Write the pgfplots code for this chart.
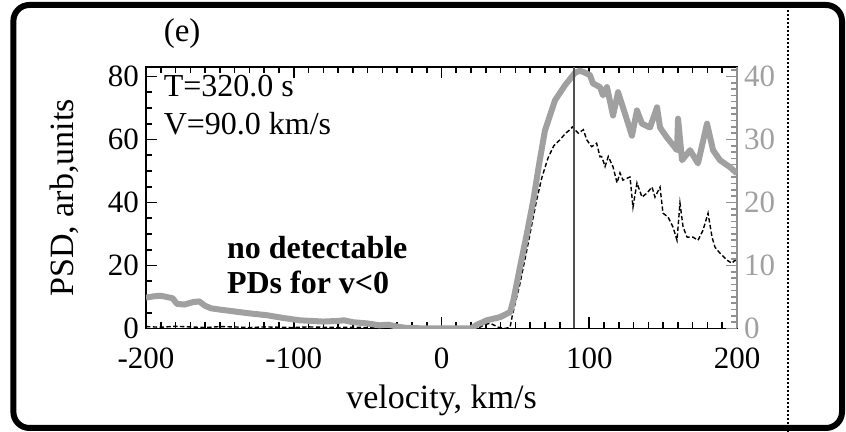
\documentclass[border=0pt]{standalone}
\usepackage{fontspec}
\setmainfont{Liberation Serif}
\usepackage{pgfplots}
\pgfplotsset{compat=1.18}
\definecolor{psdgray}{HTML}{A0A0A0}
\definecolor{rgray}{HTML}{909090}
\definecolor{vline}{HTML}{505050}
\begin{document}
\begin{tikzpicture}
\useasboundingbox (0,0) rectangle (423pt,216pt);
% main (left) axis
\begin{axis}[
  at={(73pt,51.75pt)}, anchor=south west, scale only axis,
  width=295.5pt, height=130.75pt,
  xmin=-200, xmax=200, ymin=0, ymax=83,
  /pgf/number format/assume math mode=true,
  tick label style={font=\fontsize{15.5}{17}\selectfont},
  xtick={-200,-100,0,100,200}, minor x tick num=9,
  ytick={0,20,40,60,80}, minor y tick num=3,
  xtick pos=both, ytick pos=left,
  major tick length=5.5pt, minor tick length=3.2pt,
  major tick style={black, line width=0.8pt},
  minor tick style={black, line width=0.8pt},
  axis line style={line width=0.6pt},
  xticklabel style={yshift=-6pt},
  xlabel={velocity, km/s},
  ylabel={PSD, arb,units},
  label style={font=\fontsize{17}{19}\selectfont},
  xlabel style={at={(axis description cs:0.5,-0.2734)}, anchor=center},
  ylabel style={at={(axis description cs:-0.138,0.5)}, anchor=center},
]
\pgfplotsinvokeforeach{-190,-180,...,190}{
  \draw[black, line width=0.8pt] (axis cs:#1,0) -- ++(0pt,3.2pt) (axis cs:#1,83) -- ++(0pt,-3.2pt);}
\pgfplotsinvokeforeach{-100,0,100}{
  \draw[black, line width=0.8pt] (axis cs:#1,0) -- ++(0pt,5.5pt) (axis cs:#1,83) -- ++(0pt,-5.5pt);}
\pgfplotsinvokeforeach{5,10,15,25,30,35,45,50,55,65,70,75}{
  \draw[black, line width=0.8pt] (axis cs:-200,#1) -- ++(3.2pt,0pt);}
\pgfplotsinvokeforeach{20,40,60,80}{
  \draw[black, line width=0.8pt] (axis cs:-200,#1) -- ++(5.5pt,0pt);}
\addplot[black, line width=0.7pt, dash pattern=on 2.2pt off 1.2pt] coordinates {
(-200,0.6) (-190,0.4) (-180,0.7) (-170,0.5) (-160,0.3) (-150,0.6) (-140,0.5)
(-130,0.3) (-120,0.5) (-110,0.4) (-100,0.3) (-90,0.5) (-80,0.4) (-70,0.3)
(-60,0.4) (-50,0.3) (-40,0.4) (-30,0.2) (-20,0.2) (-10,0.1) (0,0.1) (10,0.1)
(20,0.2) (26,0.4) (28.3,1.0) (32.8,1.7) (35,1.2) (38.5,0.4) (43,0.0)
(46.4,0.4) (48.2,4.7) (53.1,14.2) (57.7,24.8) (62.1,35.4) (64.4,40.8)
(68,48) (72,54) (76,58) (80.2,59.9) (84,62) (87,63.1) (88.5,64.0)
(92.6,62.0) (96,63.1) (98.3,59.9) (101.6,57.7) (105,58.8) (107.3,54.5)
(108.4,54.6) (110.7,51.4) (112.9,54.6) (116.1,51.3) (118.8,46.2) (120.8,49.4)
(122.8,47.1) (127.6,48.1) (129.6,38.5) (132.3,46.2) (135.7,41.7) (139.1,43.0)
(142.5,44.9) (144.5,41.7) (147.9,44.9) (149.9,36.6) (153.3,35.4) (156.7,32.2)
(159.4,28.0) (161.4,39.8) (163.5,32.2) (166.2,29.0) (170.2,29.0) (173.6,28.0)
(177.0,31.2) (180.4,36.6) (183.1,29.0) (185.1,25.8) (188.5,23.9) (193.2,21.7)
(196.6,20.7) (198.6,21.7) (200,20.7)
};
\end{axis}
% right (gray) axis
\begin{axis}[
  at={(73pt,51.75pt)}, anchor=south west, scale only axis,
  width=295.5pt, height=130.75pt,
  xmin=-200, xmax=200, ymin=0, ymax=41.5,
  /pgf/number format/assume math mode=true,
  tick label style={font=\fontsize{15.5}{17}\selectfont},
  axis x line=none, axis y line*=right,
  ytick={0,10,20,30,40}, minor y tick num=9,
  major tick length=5.5pt, minor tick length=3.2pt,
  major tick style={rgray, line width=0.8pt},
  minor tick style={rgray, line width=0.8pt},
  y axis line style={rgray, line width=0.6pt},
  yticklabel style={text=psdgray},
]
\pgfplotsinvokeforeach{1,2,...,9,11,12,...,19,21,22,...,29,31,32,...,39,41}{
  \draw[rgray, line width=0.8pt] (axis cs:200,#1) -- ++(-3.2pt,0pt);}
\pgfplotsinvokeforeach{10,20,30,40}{
  \draw[rgray, line width=0.8pt] (axis cs:200,#1) -- ++(-5.5pt,0pt);}
\addplot[psdgray, line width=3pt, line join=round] coordinates {
(-200,4.9) (-195,5.1) (-190,5.2) (-186,5.0) (-182,4.8) (-179,3.9) (-174,3.8)
(-168,4.2) (-164,4.3) (-160,3.6) (-156,3.2) (-150,3.0) (-140,2.7) (-130,2.4)
(-118,2.1) (-108,1.7) (-96,1.3) (-88,1.2) (-80,1.1) (-70,1.2) (-66,1.3)
(-60,1.0) (-50,0.8) (-42,0.5) (-36,0.6) (-30,0.3) (-24,0.1) (-10,0.0)
(0,0.0) (20,0.0) (24,0.6) (26,0.8) (30.6,1.3) (39.6,1.8) (46.4,2.6)
(48.6,4.4) (53.1,9.7) (57.7,15.0) (62.1,20.3) (66,26.0) (70,31.4)
(76.8,36.2) (83.6,38.6) (90.4,40.6) (93.7,40.9) (97.1,40.6) (100.5,40.2)
(102.5,38.9) (107.3,38.3) (109.3,37.0) (112.0,38.3) (116.1,33.8) (119.5,37.5)
(122.8,35.1) (128.9,30.6) (132.3,34.6) (135.7,32.5) (141.1,31.9) (145.9,35.1)
(147.9,31.9) (152.6,30.3) (159.4,28.3) (160.1,33.3) (162.8,26.7) (168.2,28.3)
(173.6,26.2) (179.7,32.5) (183.8,28.3) (188.5,26.7) (195.3,25.6) (200,24.6)
};
\addplot[vline, line width=1pt] coordinates {(90,0) (90,41.5)};
\end{axis}
% annotations
\node[anchor=base west, inner sep=0pt, font=\fontsize{16.5}{18}\selectfont] at (81.7pt,195.2pt) {(e)};
\node[anchor=base west, inner sep=0pt, font=\fontsize{16}{18}\selectfont] at (81.7pt,167.6pt) {T=320.0 s};
\node[anchor=base west, inner sep=0pt, font=\fontsize{16}{18}\selectfont] at (81.7pt,148.5pt) {V=90.0 km/s};
\node[anchor=base west, inner sep=0pt, font=\fontsize{16}{18}\selectfont\bfseries] at (113.3pt,86.8pt) {no detectable};
\node[anchor=base west, inner sep=0pt, font=\fontsize{16}{18}\selectfont\bfseries] at (113.3pt,69.3pt) {PDs for v<0};
% frame and dotted separator
\draw[line width=3pt, rounded corners=8pt] (6.7pt,2pt) rectangle (421pt,213.5pt);
\draw[line width=1pt, dash pattern=on 1pt off 1pt] (393.8pt,211pt) -- (393.8pt,0pt);
\end{tikzpicture}
\end{document}
